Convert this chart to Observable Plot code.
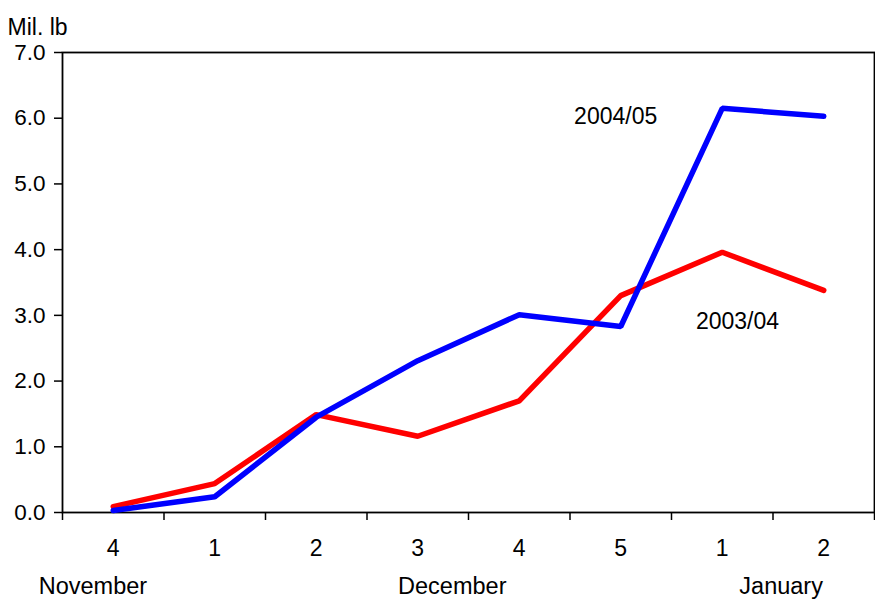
<!DOCTYPE html>
<html>
<head>
<meta charset="utf-8">
<script src="https://cdn.jsdelivr.net/npm/d3@7"></script>
<script src="https://cdn.jsdelivr.net/npm/@observablehq/plot@0.6"></script>
<style>
  html, body { margin: 0; padding: 0; background: #fff; }
  #chart svg { display: block; }
</style>
</head>
<body>
<div id="chart"></div>
<script>
const weekLabels = ["4", "1", "2", "3", "4", "5", "1", "2"];
const series2003 = [0.09, 0.44, 1.49, 1.16, 1.70, 3.30, 3.96, 3.38];
const series2004 = [0.03, 0.24, 1.45, 2.31, 3.01, 2.83, 6.15, 6.03];
const months = ["November", "December", "January"];
const monthAt = [0.80, 4.34, 7.58];
const seriesNames = ["2004/05", "2003/04"];
const seriesNameAtX = [5.95, 7.15];
const seriesNameAtY = [6.03, 2.91];
const yTicks = [0, 1, 2, 3, 4, 5, 6, 7];

const idx = weekLabels.map((_, i) => i + 1);
const red = idx.map((i, k) => ({x: i, y: series2003[k]}));
const blue = idx.map((i, k) => ({x: i, y: series2004[k]}));
const boundaries = d3.range(0.5, weekLabels.length + 1, 1);
const font = "'Liberation Sans', Arial, sans-serif";

const chart = Plot.plot({
  width: 875,
  height: 603,
  marginLeft: 62,
  marginRight: 1,
  marginTop: 52,
  marginBottom: 91,
  style: {fontFamily: font, fontSize: "22px", color: "#000", background: "#fff"},
  x: {domain: [0.5, weekLabels.length + 0.5]},
  y: {domain: [0, 7]},
  marks: [
    Plot.axisY({ticks: yTicks, tickFormat: d3.format(".1f"), tickSize: 8, tickPadding: 9, fontSize: 22.5, label: null, strokeWidth: 1.5}),
    Plot.axisX({ticks: boundaries, tickFormat: () => "", tickSize: 8, label: null, strokeWidth: 1.5}),
    Plot.axisX({ticks: idx, tickFormat: (d) => weekLabels[d - 1], tickSize: 0, tickPadding: 27, fontSize: 23, label: null}),
    Plot.text(months, {x: (d, i) => monthAt[i], frameAnchor: "bottom", dy: 81, text: (d) => d, fontSize: 23.5}),
    Plot.text(["Mil. lb"], {frameAnchor: "top-left", dx: -55, dy: -34, textAnchor: "start", fontSize: 23}),
    Plot.frame({stroke: "#000", strokeWidth: 1.8}),
    Plot.line(red, {x: "x", y: "y", stroke: "#ff0000", strokeWidth: 5.5, strokeLinejoin: "miter", strokeLinecap: "round"}),
    Plot.line(blue, {x: "x", y: "y", stroke: "#0000ff", strokeWidth: 5.5, strokeLinejoin: "miter", strokeLinecap: "round"}),
    Plot.text(seriesNames, {x: (d, i) => seriesNameAtX[i], y: (d, i) => seriesNameAtY[i], text: (d) => d, fontSize: 23})
  ]
});
document.getElementById("chart").appendChild(chart);
</script>
</body>
</html>
